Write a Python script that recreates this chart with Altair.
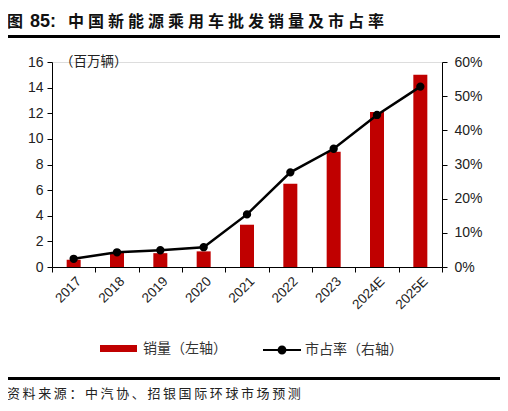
import altair as alt
import pandas as pd

years = ["2017", "2018", "2019", "2020", "2021", "2022", "2023", "2024E", "2025E"]
sales = [0.57, 1.12, 1.08, 1.22, 3.3, 6.5, 9.0, 12.1, 15.0]
share = [0.024, 0.043, 0.049, 0.058, 0.154, 0.277, 0.346, 0.445, 0.528]
left_ticks = [0, 2, 4, 6, 8, 10, 12, 14, 16]
right_ticks = [0, 0.1, 0.2, 0.3, 0.4, 0.5, 0.6]

title_prefix = "图 85:"
title_main = "中国新能源乘用车批发销量及市占率"
unit_text = "（百万辆）"
source_text = "资料来源：中汽协、招银国际环球市场预测"
legend_bar = "销量（左轴）"
legend_line = "市占率（右轴）"

df = pd.DataFrame({"year": years, "sales": sales, "share": share})
df["s_bar"] = legend_bar
df["s_line"] = legend_line

CJK = "Noto Sans CJK SC"
NUM = "Liberation Sans"

x_enc = alt.X(
    "year:N",
    sort=years,
    scale=alt.Scale(paddingInner=0, paddingOuter=0),
    axis=alt.Axis(
        title=None, labelAngle=-45, tickBand="extent", tickSize=5,
        domainColor="black", tickColor="black", labelFont=NUM,
        labelFontSize=13.5, labelColor="#222", labelPadding=2,
    ),
)

bars = alt.Chart(df).mark_bar(size=14).encode(
    x=x_enc,
    y=alt.Y(
        "sales:Q",
        scale=alt.Scale(domain=[0, 16], nice=False),
        axis=alt.Axis(
            values=left_ticks, grid=False, title=None, tickSize=5,
            labelPadding=4, domainColor="black", tickColor="black",
            labelFont=NUM, labelFontSize=14, labelColor="#222", format="d",
        ),
    ),
    color=alt.Color(
        "s_bar:N",
        scale=alt.Scale(domain=[legend_bar], range=["#C00000"]),
        legend=alt.Legend(
            title=None, orient="none", legendX=48, legendY=268, padding=0,
            symbolType="M-1,-0.19H1V0.19H-1Z", symbolSize=1369,
            symbolStrokeWidth=0, labelFont=CJK, labelFontSize=14,
            labelColor="#333", labelOffset=6,
        ),
    ),
)

line = alt.Chart(df).mark_line(
    strokeWidth=2.5,
    point=alt.OverlayMarkDef(filled=True, color="black", size=40, opacity=1),
).encode(
    x=x_enc,
    y=alt.Y(
        "share:Q",
        scale=alt.Scale(domain=[0, 0.6], nice=False),
        axis=alt.Axis(
            orient="right", values=right_ticks, grid=False, title=None,
            tickSize=5, labelPadding=7, domainColor="black", tickColor="black",
            labelFont=NUM, labelFontSize=14, labelColor="#222", format=".0%",
        ),
    ),
    stroke=alt.Stroke(
        "s_line:N",
        scale=alt.Scale(domain=[legend_line], range=["black"]),
        legend=alt.Legend(
            title=None, orient="none", legendX=210, legendY=268, padding=0,
            symbolType="M-1,0H1M0.18,0A0.18,0.18 0 1 1 -0.18,0A0.18,0.18 0 1 1 0.18,0Z",
            symbolSize=1444, symbolStrokeWidth=2, symbolFillColor="black",
            symbolStrokeColor="black", labelFont=CJK, labelFontSize=14,
            labelColor="#333", labelOffset=3,
        ),
    ),
)

one = alt.Data(values=[{}])

def txt(s, x, y, size, font=CJK, weight="normal", color="#222"):
    return alt.Chart(one).mark_text(
        align="left", baseline="middle", font=font, fontSize=size,
        fontWeight=weight, color=color,
    ).encode(x=alt.value(x), y=alt.value(y), text=alt.value(s))

def hrule(y, w):
    return alt.Chart(one).mark_rule(color="black", strokeWidth=w).encode(
        x=alt.value(-47), x2=alt.value(450), y=alt.value(y)
    )

deco = [
    txt("图", -45, -40, 16, weight="bold", color="#111"),
    txt("85:", -22, -40, 18, font=NUM, weight="bold", color="#111"),
    txt("\u2005".join(title_main), 16, -40, 16, weight="bold", color="#111"),
    hrule(-25.5, 3),
    txt(unit_text, 8, 0, 13.5),
    hrule(316.5, 3),
    txt("\u2009".join(source_text), -45, 332, 13),
]

main = alt.layer(bars, line).resolve_scale(y="independent")

chart = alt.layer(main, *deco).properties(
    width=390,
    height=205,
    autosize=alt.AutoSizeParams(type="none"),
    padding={"left": 44, "top": 54, "right": 58, "bottom": 136},
).configure_view(stroke=None).configure(background="white")

chart.save("out.html", embed_options={"renderer": "svg", "actions": False})
